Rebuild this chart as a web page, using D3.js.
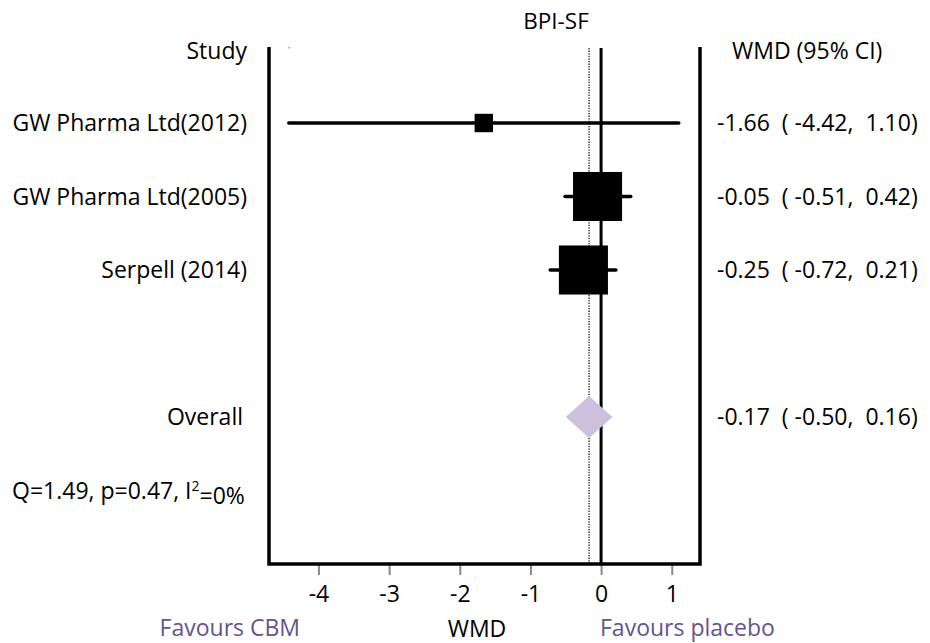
<!DOCTYPE html>
<html><head><meta charset="utf-8">
<script src="https://cdn.jsdelivr.net/npm/d3@7"></script>
<style>
html,body{margin:0;padding:0;background:#fff;}
text{font-family:"Open Sans",sans-serif;white-space:pre;}
</style></head>
<body><svg id="c" width="930" height="643"></svg>
<script>
const title = "BPI-SF";
const studies = ["GW Pharma Ltd(2012)", "GW Pharma Ltd(2005)", "Serpell (2014)"];
const estimates = [-1.66, -0.05, -0.25];
const lower = [-4.42, -0.51, -0.72];
const upper = [1.10, 0.42, 0.21];
const weights = [1.4, 49.3, 49.3];
const overall = {label: "Overall", est: -0.17, lo: -0.50, hi: 0.16};
const heterogeneity = "Q=1.49, p=0.47, I";
const xTicks = [-4, -3, -2, -1, 0, 1];
const xDomain = [-4.70, 1.40];

const svg = d3.select("#c");
const x = d3.scaleLinear().domain(xDomain).range([269, 700]);
const y = d3.scaleLinear().domain([-1, 5]).range([49.5, 490.5]);
const box = d3.scaleLinear().domain([0, 50]).range([17.5, 49.5]);
const loc = d3.formatLocale({decimal: ".", thousands: ",", grouping: [3], currency: ["", ""], minus: "-"});
const fmt = loc.format(".2f");
const purple = "#65548a";
const fs = 23;
const frameBottom = 564, frameTop = 47;

// axis
const axis = d3.axisBottom(x).tickValues(xTicks).tickSize(11).tickPadding(11).tickFormat(loc.format("d"));
const gA = svg.append("g").attr("transform", `translate(0,${frameBottom})`).call(axis);
gA.select(".domain").remove();
gA.selectAll(".tick line").attr("stroke", "#888").attr("stroke-width", 2);
gA.selectAll(".tick text").attr("font-size", fs).attr("fill", "#000").attr("font-family", "Open Sans");

// frame
svg.append("path")
  .attr("d", `M${x(xDomain[0])},${frameTop}V${frameBottom}H${x(xDomain[1])}V${frameTop}`)
  .attr("fill", "none").attr("stroke", "#000").attr("stroke-width", 3.5);

// zero line
svg.append("line").attr("x1", x(0)).attr("x2", x(0)).attr("y1", 48).attr("y2", frameBottom)
  .attr("stroke", "#000").attr("stroke-width", 3);

// overall dotted line
svg.append("line").attr("x1", x(overall.est)).attr("x2", x(overall.est)).attr("y1", 48).attr("y2", frameBottom)
  .attr("stroke", "#000").attr("stroke-width", 1.2).attr("stroke-dasharray", "1.3,1.3");

// tiny mark
svg.append("rect").attr("x", 288.5).attr("y", 47).attr("width", 1.5).attr("height", 1.5).attr("fill", "#999");

// studies
studies.forEach((s, i) => {
  const yy = y(i);
  svg.append("line").attr("x1", x(lower[i])).attr("x2", x(upper[i])).attr("y1", yy).attr("y2", yy)
    .attr("stroke", "#000").attr("stroke-width", 3.5).attr("stroke-linecap", "round");
  const b = box(weights[i]);
  svg.append("rect").attr("x", x(estimates[i]) - b / 2).attr("y", yy - b / 2)
    .attr("width", b).attr("height", b).attr("fill", "#000");
  svg.append("text").attr("x", 247).attr("y", yy).attr("dy", "0.36em").attr("text-anchor", "end")
    .attr("font-size", fs).text(s);
  svg.append("text").attr("x", 717).attr("y", yy).attr("dy", "0.36em").attr("font-size", fs)
    .text(`${fmt(estimates[i])}  ( ${fmt(lower[i])},  ${fmt(upper[i])})`);
});

// overall diamond
const yo = y(4);
svg.append("path")
  .attr("d", `M${x(overall.lo)},${yo}L${x(overall.est)},${yo - 21}L${x(overall.hi)},${yo}L${x(overall.est)},${yo + 21}Z`)
  .attr("fill", "#cbc1dd");
svg.append("text").attr("x", 243).attr("y", yo).attr("dy", "0.36em").attr("text-anchor", "end")
  .attr("font-size", fs).text(overall.label);
svg.append("text").attr("x", 717).attr("y", yo).attr("dy", "0.36em").attr("font-size", fs)
  .text(`${fmt(overall.est)}  ( ${fmt(overall.lo)},  ${fmt(overall.hi)})`);

// heterogeneity
const ht = svg.append("text").attr("x", 12).attr("y", y(5)).attr("dy", "0.36em").attr("font-size", fs);
ht.append("tspan").text(heterogeneity);
ht.append("tspan").attr("dy", "-0.55em").attr("font-size", 14).text("2");
ht.append("tspan").attr("dy", "0.55em").text("=0%");

// headers
svg.append("text").attr("x", 247).attr("y", 59).attr("text-anchor", "end").attr("font-size", fs).text("Study");
svg.append("text").attr("x", 732).attr("y", 59).attr("font-size", fs).text("WMD (95% CI)");
svg.append("text").attr("x", 556).attr("y", 29).attr("text-anchor", "middle").attr("font-size", 22.5).text(title);

// bottom labels
svg.append("text").attr("x", 300).attr("y", 636).attr("text-anchor", "end").attr("font-size", fs).attr("fill", purple).text("Favours CBM");
svg.append("text").attr("x", 477).attr("y", 637).attr("text-anchor", "middle").attr("font-size", fs).text("WMD");
svg.append("text").attr("x", 600).attr("y", 636).attr("font-size", fs).attr("fill", purple).text("Favours placebo");
</script></body></html>
